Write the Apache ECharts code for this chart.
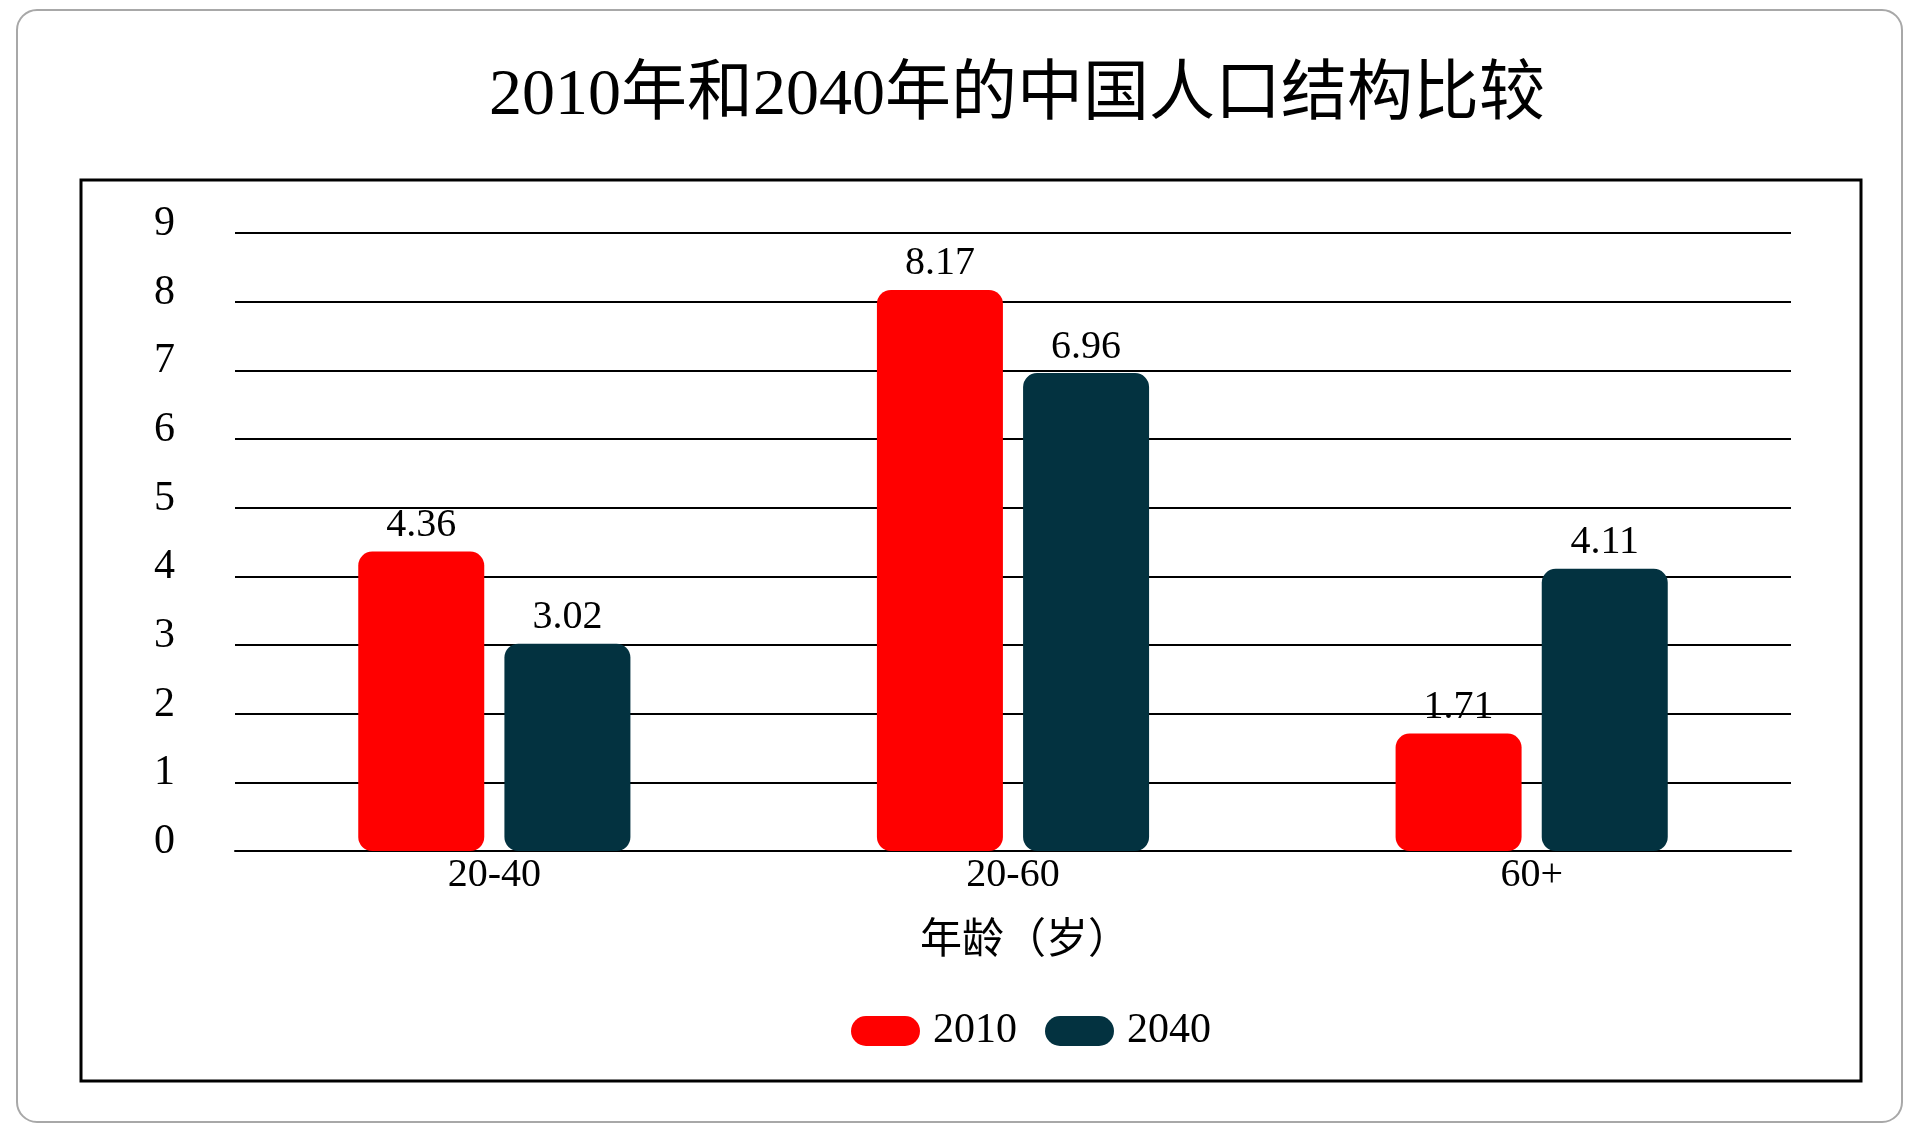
<!DOCTYPE html>
<html>
<head>
<meta charset="utf-8">
<title>2010年和2040年的中国人口结构比较</title>
<script src="https://cdn.jsdelivr.net/npm/echarts@6/dist/echarts.min.js"></script>
<style>
  html, body { margin: 0; padding: 0; background: #fff; }
  #chart { width: 1920px; height: 1133px; }
</style>
</head>
<body>
<div id="chart"></div>
<script>
// data
var categories = ['20-40', '20-60', '60+']
var values2010 = [4.36, 8.17, 1.71]
var values2040 = [3.02, 6.96, 4.11]
var seriesNames = ['2010', '2040']

var fontFamily = '"Liberation Serif", "Noto Sans CJK SC", serif'
// pill shaped legend marker
var pill = 'path://M15,0 H54 A15,15 0 0 1 54,30 H15 A15,15 0 0 1 15,0 Z'

var chart = echarts.init(document.getElementById('chart'))

function barSeries(name, data, color) {
  return {
    name: name,
    type: 'bar',
    data: data,
    barWidth: 126,
    barGap: '16%',
    itemStyle: { color: color, borderRadius: 14 },
    label: {
      show: true,
      position: 'top',
      distance: 6,
      color: '#000',
      fontSize: 40,
      fontFamily: fontFamily
    }
  }
}

chart.setOption({
  backgroundColor: '#fff',
  textStyle: { fontFamily: fontFamily },
  title: {
    text: '2010年和2040年的中国人口结构比较',
    left: 484,
    top: 59,
    textStyle: { fontSize: 66, fontWeight: 'normal', color: '#000', fontFamily: fontFamily }
  },
  graphic: [
    {
      type: 'rect',
      shape: { x: 17, y: 10, width: 1885, height: 1112, r: 20 },
      style: { fill: null, stroke: '#a8a8a8', lineWidth: 2 },
      z: -1
    },
    {
      type: 'rect',
      shape: { x: 81, y: 180, width: 1780, height: 901 },
      style: { fill: null, stroke: '#000', lineWidth: 3 },
      z: -1
    }
  ],
  legend: {
    data: seriesNames,
    left: 846,
    top: 1005,
    icon: pill,
    itemWidth: 69,
    itemHeight: 30,
    itemGap: 28,
    textStyle: { fontSize: 42, color: '#000', fontFamily: fontFamily, padding: [0, 0, 0, 8] }
  },
  grid: {
    left: 235,
    right: 129,
    top: 233,
    bottom: 282
  },
  xAxis: {
    type: 'category',
    data: categories,
    name: '年龄（岁）',
    nameLocation: 'middle',
    nameGap: 70,
    nameTextStyle: { fontSize: 42, color: '#000', fontFamily: fontFamily, padding: [0, 0, 0, 24] },
    axisLine: { lineStyle: { color: '#000', width: 2 } },
    axisTick: { show: false },
    axisLabel: { margin: 4, fontSize: 40, color: '#000', fontFamily: fontFamily }
  },
  yAxis: {
    type: 'value',
    min: 0,
    max: 9,
    interval: 1,
    axisLine: { show: false },
    axisTick: { show: false },
    splitLine: { lineStyle: { color: '#000', width: 2 } },
    axisLabel: {
      margin: 60,
      fontSize: 42,
      color: '#000',
      fontFamily: fontFamily,
      verticalAlign: 'bottom',
      lineHeight: 18
    }
  },
  series: [
    barSeries(seriesNames[0], values2010, '#ff0000'),
    barSeries(seriesNames[1], values2040, '#033240')
  ]
})
</script>
</body>
</html>
